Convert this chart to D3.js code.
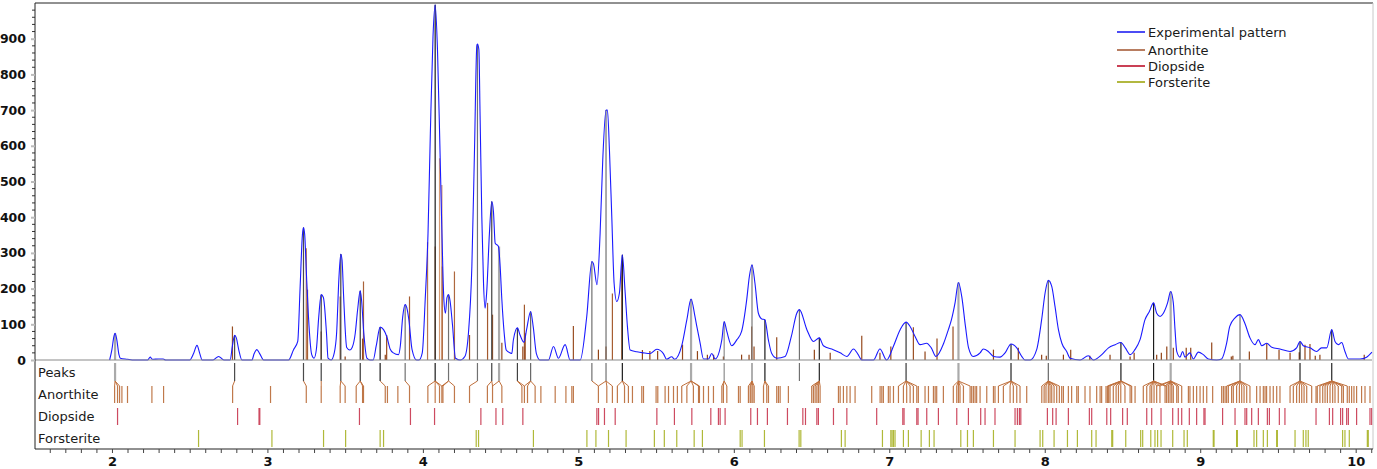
<!DOCTYPE html>
<html><head><meta charset="utf-8">
<script src="https://cdn.jsdelivr.net/npm/d3@7"></script>
<style>
html,body{margin:0;padding:0;background:#fff;}
svg{display:block;font-family:"DejaVu Sans",Verdana,sans-serif;}
</style></head>
<body><svg id="c" width="1377" height="469"></svg>
<script>
// ---------- DATA ----------
const xTickLabels = [2,3,4,5,6,7,8,9,10];
const yTickLabels = [0,100,200,300,400,500,600,700,800,900];
const rowNames = ["Peaks","Anorthite","Diopside","Forsterite"];
const legendNames = ["Experimental pattern","Anorthite","Diopside","Forsterite"];

// experimental pattern: [d, intensity]
const patternD = [1.985,2.0,2.012,2.02,2.03,2.045,2.054,2.1,2.13,2.23,2.246,2.26,2.3,2.33,2.345,2.50,2.525,2.547,2.565,2.58,2.65,2.686,2.72,2.76,2.775,2.789,2.80,2.815,2.836,2.90,2.915,2.932,2.95,2.976,3.136,3.168,3.195,3.21,3.225,3.232,3.24,3.25,3.264,3.285,3.30,3.315,3.33,3.346,3.36,3.38,3.39,3.41,3.43,3.445,3.46,3.472,3.48,3.49,3.51,3.53,3.545,3.565,3.58,3.597,3.605,3.62,3.64,3.66,3.68,3.70,3.725,3.747,3.768,3.79,3.81,3.843,3.855,3.87,3.886,3.90,3.91,3.93,3.96,3.975,3.996,4.015,4.033,4.048,4.065,4.079,4.094,4.11,4.12,4.135,4.145,4.155,4.165,4.175,4.19,4.21,4.24,4.27,4.293,4.315,4.332,4.347,4.351,4.36,4.368,4.379,4.39,4.40,4.41,4.428,4.443,4.454,4.465,4.486,4.497,4.508,4.523,4.536,4.56,4.572,4.582,4.608,4.625,4.65,4.667,4.693,4.71,4.73,4.754,4.808,4.84,4.872,4.915,4.947,5.012,5.054,5.087,5.097,5.12,5.14,5.157,5.178,5.187,5.20,5.215,5.23,5.247,5.264,5.283,5.30,5.316,5.333,5.376,5.418,5.461,5.505,5.547,5.568,5.60,5.62,5.665,5.698,5.725,5.75,5.762,5.783,5.805,5.837,5.858,5.88,5.923,5.938,5.955,5.987,6.02,6.05,6.083,6.10,6.117,6.136,6.158,6.18,6.20,6.222,6.244,6.276,6.33,6.37,6.405,6.422,6.47,6.512,6.55,6.576,6.64,6.684,6.727,6.77,6.80,6.823,6.898,6.94,6.983,7.026,7.07,7.108,7.134,7.166,7.198,7.24,7.27,7.30,7.35,7.38,7.40,7.423,7.445,7.466,7.49,7.51,7.54,7.584,7.605,7.637,7.67,7.712,7.745,7.783,7.82,7.852,7.873,7.906,7.948,7.98,8.002,8.023,8.045,8.066,8.088,8.11,8.141,8.163,8.227,8.28,8.313,8.367,8.41,8.453,8.49,8.518,8.55,8.58,8.613,8.645,8.673,8.70,8.72,8.742,8.763,8.79,8.81,8.827,8.838,8.849,8.87,8.887,8.902,8.934,8.956,8.988,9.02,9.052,9.106,9.138,9.17,9.19,9.224,9.256,9.287,9.32,9.352,9.374,9.396,9.428,9.46,9.513,9.578,9.62,9.642,9.663,9.706,9.749,9.78,9.814,9.846,9.867,9.888,9.91,9.931,9.953,10.028,10.07,10.105];
const patternI = [0,30,65,75,60,15,5,2,0,0,8,2,3,3,0,0,18,41,18,0,0,10,0,0,40,69,62,30,0,0,18,29,18,0,0,29,52,200,350,371,350,250,122,15,5,30,120,183,175,75,5,0,20,75,230,297,280,180,35,28,35,75,140,194,170,75,5,0,0,40,92,85,65,30,20,15,40,120,155,140,112,30,0,0,20,170,355,635,905,995,868,588,402,169,131,175,183,165,100,5,0,10,75,262,588,880,885,870,682,402,215,145,187,355,444,415,327,318,262,169,75,28,20,18,56,90,70,50,85,136,92,18,0,0,38,5,43,0,0,122,276,270,211,355,561,700,700,588,402,215,164,187,295,196,92,28,23,20,18,30,18,2,9,2,40,113,171,122,94,48,3,3,18,3,57,108,80,40,57,80,169,234,267,215,131,115,113,57,18,5,10,66,131,141,85,52,62,40,29,20,10,31,15,0,0,31,0,38,85,106,94,66,43,47,34,10,47,85,113,160,217,178,94,34,10,20,31,24,10,8,20,45,34,10,0,0,29,113,187,223,206,150,85,47,24,5,0,12,0,15,34,43,49,34,15,29,57,113,136,160,131,122,131,160,192,160,85,24,8,24,8,20,3,22,15,3,0,3,47,94,118,127,103,62,43,57,40,47,36,31,24,34,52,40,34,24,34,34,85,52,43,49,24,3,3,8,22];

// identified peaks
const peakD = [2.02,2.789,3.232,3.346,3.472,3.597,3.725,3.886,4.079,4.165,4.351,4.443,4.49,4.608,4.693,5.087,5.178,5.283,5.725,5.938,6.117,6.20,6.422,6.55,7.108,7.445,7.783,8.023,8.49,8.70,8.81,9.256,9.642,9.846];
const peakI = [75,69,371,183,297,194,92,155,995,183,885,444,318,90,136,276,700,295,171,108,267,113,141,62,106,217,45,223,49,160,192,127,52,85];
const peakFit = [0.8,0.3,0.3,0.25,0.25,0.2,0.05,0.5,0.05,0.5,0.5,0.25,0.8,0.25,0.45,0.5,0.5,0.05,0.8,0.65,0.55,0.05,0.5,0.1,0.2,0.8,0.1,0.45,0.05,0.05,0.8,0.5,0.1,0.1];

// anorthite reference sticks in the pattern
const anoStickD = [2.017,2.775,3.25,3.258,3.346,3.468,3.50,3.612,3.618,3.758,3.767,3.914,4.03,4.079,4.107,4.122,4.125,4.203,4.30,4.416,4.448,4.508,4.643,4.653,4.658,4.968,5.129,5.178,5.219,5.279,5.412,5.46,5.51,5.67,5.766,5.83,5.87,5.933,6.05,6.098,6.115,6.13,6.276,6.518,6.62,6.823,6.94,7.01,7.155,7.23,7.307,7.41,7.67,7.83,7.98,8.01,8.12,8.167,8.29,8.42,8.549,8.575,8.72,8.75,8.785,8.827,8.91,8.939,9.074,9.2,9.21,9.316,9.428,9.507,9.578,9.637,9.674,9.706,9.74,9.77,10.055];
const anoStickI = [48,94,313,197,80,178,10,60,220,15,70,178,330,318,565,490,262,248,70,160,127,48,38,155,75,95,29,38,186,276,28,25,25,43,25,15,15,10,15,15,94,38,64,29,20,68,20,38,92,24,60,94,29,34,15,12,15,29,12,15,10,20,15,20,38,34,34,34,49,10,12,24,47,29,20,22,43,45,12,15,15];

// phase reference positions (lower panel)
const anorthiteD = [2.017,2.036,2.049,2.064,2.10,2.257,2.332,2.776,3.02,3.25,3.346,3.468,3.50,3.571,3.612,3.618,3.758,3.772,3.839,3.914,4.032,4.079,4.107,4.122,4.129,4.203,4.30,4.415,4.448,4.508,4.637,4.653,4.673,4.722,4.759,4.851,4.92,4.958,4.968,5.129,5.183,5.219,5.251,5.297,5.322,5.348,5.408,5.419,5.50,5.511,5.558,5.58,5.612,5.637,5.665,5.698,5.740,5.773,5.779,5.805,5.837,5.869,5.923,5.933,5.955,6.030,6.041,6.094,6.105,6.111,6.122,6.131,6.191,6.212,6.223,6.276,6.287,6.298,6.351,6.501,6.512,6.523,6.534,6.544,6.555,6.673,6.684,6.705,6.727,6.748,6.780,6.887,6.941,6.952,6.962,6.994,7.005,7.027,7.059,7.091,7.112,7.134,7.155,7.177,7.187,7.230,7.252,7.284,7.295,7.305,7.348,7.412,7.434,7.445,7.455,7.477,7.520,7.530,7.541,7.552,7.562,7.584,7.627,7.670,7.680,7.702,7.734,7.777,7.798,7.820,7.841,7.884,7.981,7.996,8.008,8.023,8.034,8.045,8.060,8.077,8.094,8.109,8.120,8.152,8.173,8.206,8.216,8.259,8.291,8.334,8.356,8.366,8.394,8.403,8.411,8.420,8.441,8.459,8.474,8.489,8.516,8.549,8.559,8.581,8.634,8.656,8.677,8.688,8.703,8.720,8.741,8.774,8.784,8.795,8.806,8.817,8.827,8.849,8.859,8.881,8.924,8.934,8.956,8.977,8.999,9.020,9.042,9.080,9.138,9.149,9.160,9.170,9.181,9.202,9.213,9.234,9.252,9.267,9.282,9.299,9.320,9.363,9.385,9.406,9.417,9.427,9.449,9.470,9.492,9.513,9.578,9.599,9.620,9.638,9.653,9.668,9.685,9.717,9.745,9.753,9.770,9.788,9.803,9.818,9.835,9.852,9.867,9.888,9.910,9.921,9.946,9.959,9.974,9.989,10.006,10.038,10.060,10.092];
const diopsideD = [2.036,2.808,2.946,2.951,3.592,3.92,4.075,4.373,4.47,4.514,4.643,5.119,5.13,5.168,5.237,5.505,5.618,5.730,5.852,5.901,5.912,5.944,6.109,6.152,6.216,6.345,6.444,6.461,6.534,6.544,6.641,6.727,6.919,7.087,7.095,7.177,7.185,7.241,7.316,7.434,7.509,7.588,7.616,7.680,7.809,7.824,7.837,7.846,8.017,8.051,8.073,8.152,8.287,8.302,8.399,8.424,8.501,8.531,8.656,8.688,8.748,8.823,8.859,8.881,8.930,8.977,9.024,9.031,9.144,9.224,9.288,9.299,9.331,9.374,9.432,9.445,9.509,9.545,9.745,9.831,9.852,9.903,9.916,9.942,9.953,10.006,10.092,10.103];
const forsteriteD = [2.557,3.029,3.361,3.503,3.725,3.747,4.343,4.358,4.711,5.055,5.113,5.194,5.307,5.489,5.553,5.633,5.745,5.798,6.041,6.053,6.197,6.420,6.431,6.692,6.716,6.956,7.010,7.018,7.027,7.037,7.091,7.123,7.205,7.258,7.288,7.460,7.503,7.541,7.670,7.809,7.970,7.987,8.060,8.146,8.210,8.302,8.330,8.431,8.437,8.521,8.617,8.630,8.682,8.709,8.726,8.748,8.823,8.896,8.917,9.084,9.089,9.234,9.239,9.346,9.363,9.406,9.432,9.492,9.496,9.610,9.663,9.680,9.695,9.916,9.931,9.959,10.075,10.081];

// ---------- CHART ----------
const svg = d3.select("#c");
const L = 35, R = 1372, T = 3, Z = 360, B = 449;
const x = d3.scaleLinear().domain([1.505, 10.105]).range([L, R]);
const y = d3.scaleLinear().domain([0, 1000]).range([Z, T]);
const row = d3.scaleBand().domain(rowNames).range([Z + 1, B]);

const phaseColor = {"Anorthite":"#b5612c","Diopside":"#c42a44","Forsterite":"#a2ad16"};
const legendColor = ["#1010f0","#a0522d","#b8001c","#98a000"];

svg.append("defs").append("clipPath").attr("id","clip")
  .append("rect").attr("x",L).attr("y",T).attr("width",R-L+1).attr("height",B-T);

const g = svg.append("g").attr("clip-path","url(#clip)");

// anorthite sticks in pattern
const stickCol = d3.scaleLinear().domain([0,600]).range(["#8e3f12","#dba27c"]);
g.selectAll("line.as").data(anoStickD).join("line").attr("class","as")
  .attr("x1",d=>x(d)).attr("x2",d=>x(d))
  .attr("y1",y(0)).attr("y2",(d,i)=>y(anoStickI[i]))
  .attr("stroke",(d,i)=>stickCol(anoStickI[i])).attr("stroke-width",1.2);

// peak markers in pattern
const grey = d3.scaleLinear().domain([0,1]).range(["#111","#d0d0d0"]);
g.selectAll("line.pk").data(peakD).join("line").attr("class","pk")
  .attr("x1",d=>x(d)).attr("x2",d=>x(d))
  .attr("y1",y(0)).attr("y2",(d,i)=>y(peakI[i]))
  .attr("stroke",(d,i)=>grey(peakFit[i]))
  .attr("stroke-width",(d,i)=>peakFit[i]>0.7?2.2:1.2);

// experimental pattern
const line = d3.line().x(d=>x(d[0])).y(d=>y(d[1])).curve(d3.curveMonotoneX);
g.append("path").datum(patternD.map((d,i)=>[d,patternI[i]]))
  .attr("d",line).attr("fill","none").attr("stroke","#1a1aff").attr("stroke-width",1.1);

// zero line
svg.append("line").attr("x1",L).attr("x2",R).attr("y1",Z).attr("y2",Z)
  .attr("stroke","#8a8a8a").attr("stroke-width",1.2);

// lower panel: peaks row
const bw = row.bandwidth();
g.selectAll("line.pr").data(peakD).join("line").attr("class","pr")
  .attr("x1",d=>x(d)).attr("x2",d=>x(d))
  .attr("y1",row("Peaks")+2).attr("y2",row("Peaks")+bw-2)
  .attr("stroke",(d,i)=>grey(peakFit[i]))
  .attr("stroke-width",(d,i)=>peakFit[i]>0.7?2.2:1.2);

// connectors from peaks to matching anorthite lines
const conn = [];
peakD.forEach(p=>{
  anorthiteD.forEach(a=>{ if (Math.abs(a-p) <= 0.009*p + 0.012) conn.push([p,a]); });
});
g.selectAll("path.cn").data(conn).join("path").attr("class","cn")
  .attr("d",d=>`M${x(d[0])},${row("Peaks")+bw-2}L${x(d[1])},${row("Anorthite")+3}`)
  .attr("fill","none").attr("stroke","#c0703c").attr("stroke-width",1);

function ticks(name, arr){
  g.selectAll("line.t"+name).data(arr).join("line").attr("class","t"+name)
    .attr("x1",d=>x(d)).attr("x2",d=>x(d))
    .attr("y1",row(name)+3).attr("y2",row(name)+bw-2)
    .attr("stroke",phaseColor[name]).attr("stroke-width",1.2).attr("stroke-opacity",0.85);
}
ticks("Anorthite", anorthiteD);
ticks("Diopside", diopsideD);
ticks("Forsterite", forsteriteD);

// row labels
svg.selectAll("text.rl").data(rowNames).join("text").attr("class","rl")
  .attr("x",L+3).attr("y",d=>row(d)+bw/2).attr("dy","0.36em")
  .attr("font-size",13).attr("fill","#1a1a1a").text(d=>d);

// frame
svg.append("line").attr("x1",L).attr("x2",R+1).attr("y1",T).attr("y2",T).attr("stroke","#222");
svg.append("line").attr("x1",R+1).attr("x2",R+1).attr("y1",T).attr("y2",B).attr("stroke","#c8c8c8");

// y axis
const yMinor = d3.range(0, 1001, 20).filter(v=>v%100!==0);
svg.append("g").selectAll("line").data(yMinor).join("line")
  .attr("x1",L-3).attr("x2",L).attr("y1",d=>y(d)).attr("y2",d=>y(d))
  .attr("stroke","#333");
const yAx = svg.append("g").attr("transform",`translate(${L},0)`)
  .call(d3.axisLeft(y).tickValues(yTickLabels).tickSize(4).tickPadding(5).tickFormat(d3.format("d")));
yAx.select(".domain").attr("stroke","#222").attr("d",`M0,${T}V${B}`);
yAx.selectAll(".tick line").attr("stroke","#bbb").attr("stroke-width",2);
yAx.selectAll(".tick text").attr("font-size",12.5).attr("font-weight","bold")
  .attr("font-family","DejaVu Sans").attr("fill","#111");

// x axis
const xMinor = d3.range(16, 102, 1).map(v=>v/10);
const xAx = svg.append("g").attr("transform",`translate(0,${B})`)
  .call(d3.axisBottom(x).tickValues(xMinor).tickSize(4).tickPadding(4)
    .tickFormat(d=>xTickLabels.includes(Math.round(d*10)/10)?d3.format("d")(d):""));
xAx.select(".domain").attr("stroke","#222").attr("d",`M${L},0H${R+1}`);
xAx.selectAll(".tick line").attr("stroke","#444");
xAx.selectAll(".tick text").attr("font-size",13).attr("font-weight","bold")
  .attr("font-family","DejaVu Sans").attr("fill","#111");

// legend
const lg = svg.append("g");
const legY = [32, 50, 66, 82];
legendNames.forEach((n,i)=>{
  lg.append("line").attr("x1",1117).attr("x2",1145).attr("y1",legY[i]).attr("y2",legY[i])
    .attr("stroke",legendColor[i]).attr("stroke-width",1.5);
  lg.append("text").attr("x",1148).attr("y",legY[i]).attr("dy","0.36em")
    .attr("font-size",13).attr("fill","#1a1a1a").text(n);
});
</script></body></html>
